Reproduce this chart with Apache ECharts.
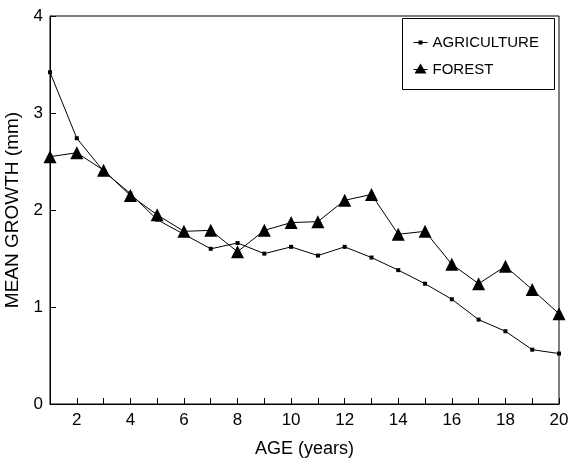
<!DOCTYPE html>
<html>
<head>
<meta charset="utf-8">
<script src="https://cdn.jsdelivr.net/npm/echarts@6/dist/echarts.min.js"></script>
<style>html,body{margin:0;padding:0;background:#fff;}#c{width:571px;height:459px;}</style>
</head>
<body>
<div id="c"></div>
<script>
var ages = [1,2,3,4,5,6,7,8,9,10,11,12,13,14,15,16,17,18,19,20];
var agriculture = [3.42,2.74,2.40,2.17,1.90,1.75,1.60,1.66,1.55,1.62,1.53,1.62,1.51,1.38,1.24,1.08,0.87,0.75,0.56,0.52];
var forest = [2.55,2.59,2.41,2.15,1.95,1.78,1.79,1.57,1.79,1.87,1.88,2.10,2.16,1.75,1.78,1.44,1.24,1.42,1.18,0.93];
var xTickLabels = ['2','4','6','8','10','12','14','16','18','20'];
var yTickLabels = ['0','1','2','3','4'];
var seriesNames = ['AGRICULTURE', 'FOREST'];

var chart = echarts.init(document.getElementById('c'));
var font = 'Liberation Sans, Arial, Helvetica, sans-serif';
function pairs(arr){ return ages.map(function(a,i){ return [a, arr[i]]; }); }

// custom legend (box, line + marker icons, labels)
var legendGraphic = {
  type: 'group', left: 402, top: 18,
  children: [
    {type: 'rect', shape: {x: 0, y: 0, width: 152, height: 71}, style: {fill: '#fff', stroke: '#000', lineWidth: 1}},
    {type: 'line', shape: {x1: 11, y1: 24, x2: 25, y2: 24}, style: {stroke: '#000', lineWidth: 1}},
    {type: 'rect', shape: {x: 16, y: 22, width: 4, height: 4}, style: {fill: '#000'}},
    {type: 'text', x: 30, y: 24, style: {text: seriesNames[0], font: '15px ' + font, fill: '#000', verticalAlign: 'middle'}},
    {type: 'line', shape: {x1: 11, y1: 51, x2: 25, y2: 51}, style: {stroke: '#000', lineWidth: 1}},
    {type: 'polygon', shape: {points: [[18, 45], [24, 55], [12, 55]]}, style: {fill: '#000'}},
    {type: 'text', x: 30, y: 51, style: {text: seriesNames[1], font: '15px ' + font, fill: '#000', verticalAlign: 'middle'}}
  ]
};

chart.setOption({
  animation: false,
  textStyle: {fontFamily: font, color: '#000'},
  grid: {left: 50, right: 12, top: 16, bottom: 55, outerBoundsMode: 'none', containLabel: false,
         show: true, borderColor: '#000', borderWidth: 1, backgroundColor: 'transparent'},
  graphic: [legendGraphic],
  xAxis: {
    type: 'value', min: 1, max: 20, interval: 1,
    name: 'AGE (years)', nameLocation: 'middle', nameGap: 36,
    nameTextStyle: {fontFamily: font, fontSize: 18, color: '#000'},
    axisLine: {lineStyle: {color: '#000', width: 1}},
    axisTick: {inside: true, length: 6, lineStyle: {color: '#000'}},
    splitLine: {show: false},
    axisLabel: {fontFamily: font, fontSize: 17, color: '#000', margin: 8,
      formatter: function(v){ var s = String(v); return xTickLabels.indexOf(s) >= 0 ? s : ''; }}
  },
  yAxis: {
    type: 'value', min: 0, max: 4, interval: 1,
    name: 'MEAN GROWTH (mm)', nameLocation: 'middle', nameGap: 25,
    nameTextStyle: {fontFamily: font, fontSize: 19, color: '#000'},
    axisLine: {show: true, lineStyle: {color: '#000', width: 1}},
    axisTick: {show: true, inside: true, length: 6, lineStyle: {color: '#000'}},
    splitLine: {show: false},
    axisLabel: {fontFamily: font, fontSize: 17, color: '#000', margin: 7,
      formatter: function(v){ return yTickLabels[Math.round(v)]; }}
  },
  series: [
    {name: seriesNames[0], type: 'line', data: pairs(agriculture),
     symbol: 'rect', symbolSize: 4, showAllSymbol: true,
     itemStyle: {color: '#000'}, lineStyle: {color: '#000', width: 1}},
    {name: seriesNames[1], type: 'line', data: pairs(forest),
     symbol: 'triangle', symbolSize: 13, showAllSymbol: true,
     itemStyle: {color: '#000'}, lineStyle: {color: '#000', width: 1}}
  ]
});
</script>
</body>
</html>
